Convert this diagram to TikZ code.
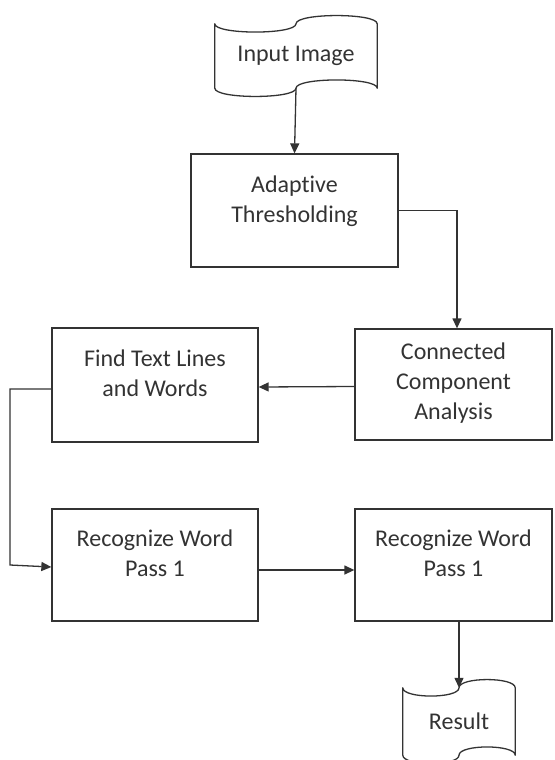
\documentclass[tikz,border=0pt]{standalone}
\usepackage{fontspec}
\setmainfont{Carlito}[Ligatures=NoCommon, RawFeature={-liga,-clig,-calt,-dlig}]
\usetikzlibrary{arrows.meta,calc}

\definecolor{ink}{HTML}{333333}

\tikzset{
  base/.style={font=\fontsize{24}{30}\selectfont, text=ink},
  box/.style={draw=ink, line width=1.3pt, rectangle, inner sep=0pt},
  tapenode/.style={base, rectangle, inner sep=0pt, align=center},
  label/.style={base, anchor=north, inner sep=0pt, align=center},
  flow/.style={draw=ink, line width=1.3pt, -{Triangle[length=10pt,width=9pt]}},
  outline/.style={draw=ink, line width=1.3pt, line join=round}
}

% punched-tape outline around a node (wavy top and bottom)
\newcommand\tapeshape[1]{%
  \draw[outline] (#1.north west)
    .. controls +(0,11) and +(0,11) .. (#1.north)
    .. controls +(0,-11) and +(0,-11) .. (#1.north east)
    -- (#1.south east)
    .. controls +(0,-11) and +(0,-11) .. (#1.south)
    .. controls +(0,11) and +(0,11) .. (#1.south west)
    -- cycle;}

\begin{document}
\begin{tikzpicture}[x=1pt, y=-1pt]
\useasboundingbox (0,0) rectangle (554,760);

% tapes
\node[tapenode, minimum width=162pt, minimum height=64pt] (in) at (296,56) {Input Image};
\node[tapenode, minimum width=112pt, minimum height=67pt] (res) at (459,721.5) {Result};
\tapeshape{in}
\tapeshape{res}

% process boxes
\node[box, minimum width=207pt, minimum height=113pt] (ad) at (294.5,210.5) {};
\node[box, minimum width=197pt, minimum height=111pt] (cc) at (453.5,384.5) {};
\node[box, minimum width=206pt, minimum height=114pt] (ft) at (155,385) {};
\node[box, minimum width=206pt, minimum height=112pt] (ra) at (155,565) {};
\node[box, minimum width=197pt, minimum height=112pt] (rb) at (453.5,565) {};

% box captions (first baseline fixed by an invisible strut; kern keeps t and i apart)
\node[label] (adT) at ([yshift=-20.7pt]ad.north) {\rule{0pt}{18pt}Adapt\kern0pt ive\\Thresholding};
\node[label] (ccT) at ([yshift=-13pt]cc.north) {\rule{0pt}{18pt}Connected\\Component\\Analysis};
\node[label] (ftT) at ([yshift=-20.7pt]ft.north) {\rule{0pt}{18pt}Find Text Lines\\and Words};
\node[label] (raT) at ([yshift=-20pt]ra.north) {\rule{0pt}{18pt}Recognize Word\\Pass 1};
\node[label] (rbT) at ([yshift=-20pt]rb.north) {\rule{0pt}{18pt}Recognize Word\\Pass 1};

% connectors
\coordinate (loop) at (10,0);
\draw[flow] (in.south) -- (ad.north);
\draw[flow] (ad.east) -| ([xshift=3.5pt]cc.north);
\draw[flow] ([yshift=-2pt]cc.west) -- ([yshift=-2pt]ft.east);
\draw[flow] ([yshift=-4pt]ft.west) -| (loop |- ra.west) -- ([yshift=-2pt]ra.west);
\draw[flow] ([yshift=-5pt]ra.east) -- ([yshift=-5pt]rb.west);
\draw[flow] (rb.south -| res.north) -- (res.north);
\end{tikzpicture}
\end{document}
